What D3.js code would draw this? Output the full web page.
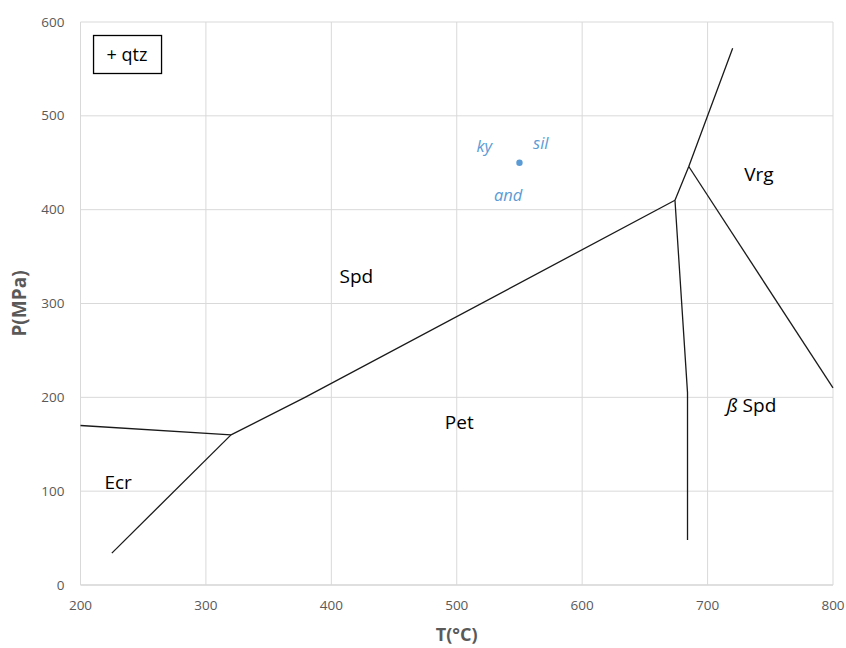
<!DOCTYPE html>
<html>
<head>
<meta charset="utf-8">
<script src="https://d3js.org/d3.v7.min.js"></script>
<style>
body { margin: 0; padding: 0; background: white; }
svg text { font-family: "Open Sans", "Liberation Sans", sans-serif; }
</style>
</head>
<body>
<svg id="chart" width="846" height="648"></svg>
<script>
// tick values
var tTicks = [200, 300, 400, 500, 600, 700, 800];
var pTicks = [0, 100, 200, 300, 400, 500, 600];

// phase boundaries as [T, P]
var ecrSpd = [[200, 170], [320, 160]];
var ecrPet = [[225, 34], [320, 160]];
var spdPet = [[320, 160], [379, 200], [674, 410]];
var petBeta = [[674, 410], [684, 205], [684, 48]];
var spdVrg = [[674, 410], [685, 446], [720, 572]];
var vrgBeta = [[685, 446], [800, 210]];

// triple point of Al2SiO5
var triplePoint = [[550, 450]];

// field labels
var fieldNames = ["Spd", "Pet", "Ecr", "Vrg"];
var fieldT = [420, 502, 230, 741];
var fieldP = [329, 173, 109, 438];

var alsNames = ["ky", "sil", "and"];
var alsT = [522, 567, 541];
var alsP = [467, 471, 415];

var margin = {top: 22, right: 13, bottom: 63, left: 80.5},
    width = 833 - margin.left,
    height = 585 - margin.top;

var svg = d3.select("#chart")
  .append("g")
  .attr("transform", "translate(" + margin.left + "," + margin.top + ")");

var x = d3.scaleLinear().domain([200, 800]).range([0, width]);
var y = d3.scaleLinear().domain([0, 600]).range([height, 0]);

// gridlines
svg.append("g").selectAll("line")
  .data(pTicks).enter().append("line")
  .attr("x1", 0).attr("x2", width)
  .attr("y1", function(d) { return y(d); })
  .attr("y2", function(d) { return y(d); })
  .attr("stroke", function(d) { return d == 0 ? "#bfbfbf" : "#d9d9d9"; })
  .attr("stroke-width", 1);

svg.append("g").selectAll("line")
  .data(tTicks).enter().append("line")
  .attr("y1", 0).attr("y2", height)
  .attr("x1", function(d) { return x(d); })
  .attr("x2", function(d) { return x(d); })
  .attr("stroke", "#d9d9d9")
  .attr("stroke-width", 1);

// tick labels
svg.append("g").selectAll("text")
  .data(tTicks).enter().append("text")
  .attr("x", function(d) { return x(d); })
  .attr("y", height + 25)
  .attr("text-anchor", "middle")
  .attr("fill", "#595959")
  .attr("font-size", "13.5px")
  .text(function(d) { return d; });

svg.append("g").selectAll("text")
  .data(pTicks).enter().append("text")
  .attr("x", -16)
  .attr("y", function(d) { return y(d) + 4.5; })
  .attr("text-anchor", "end")
  .attr("fill", "#595959")
  .attr("font-size", "13.5px")
  .text(function(d) { return d; });

// axis titles
svg.append("text")
  .attr("x", x(500))
  .attr("y", height + 56)
  .attr("text-anchor", "middle")
  .attr("fill", "#595959")
  .attr("font-size", "18px")
  .attr("font-weight", "bold")
  .text("T(°C)");

svg.append("text")
  .attr("transform", "translate(-55," + y(300) + ") rotate(-90)")
  .attr("text-anchor", "middle")
  .attr("fill", "#595959")
  .attr("font-size", "19px")
  .attr("font-weight", "bold")
  .text("P(MPa)");

// boundaries
var line = d3.line()
  .x(function(d) { return x(d[0]); })
  .y(function(d) { return y(d[1]); });

[ecrSpd, ecrPet, spdPet, petBeta, spdVrg, vrgBeta].forEach(function(seg) {
  svg.append("path")
    .datum(seg)
    .attr("d", line)
    .attr("fill", "none")
    .attr("stroke", "#1a1a1a")
    .attr("stroke-width", 1.3);
});

// triple point
svg.selectAll(".tp")
  .data(triplePoint).enter().append("circle")
  .attr("class", "tp")
  .attr("cx", function(d) { return x(d[0]); })
  .attr("cy", function(d) { return y(d[1]); })
  .attr("r", 3.2)
  .attr("fill", "#5b9bd5");

svg.append("g").selectAll("text")
  .data(alsNames).enter().append("text")
  .attr("x", function(d, i) { return x(alsT[i]); })
  .attr("y", function(d, i) { return y(alsP[i]) + 5.5; })
  .attr("text-anchor", "middle")
  .attr("fill", "#5b9bd5")
  .attr("font-size", "16.5px")
  .attr("font-style", "italic")
  .text(function(d) { return d; });

// field labels
svg.append("g").selectAll("text")
  .data(fieldNames).enter().append("text")
  .attr("x", function(d, i) { return x(fieldT[i]); })
  .attr("y", function(d, i) { return y(fieldP[i]) + 6.5; })
  .attr("text-anchor", "middle")
  .attr("fill", "#000")
  .attr("font-size", "19px")
  .text(function(d) { return d; });

var beta = svg.append("text")
  .attr("x", x(735))
  .attr("y", y(191) + 6.5)
  .attr("text-anchor", "middle")
  .attr("fill", "#000")
  .attr("font-size", "19px");
beta.append("tspan").attr("font-style", "italic").text("ß");
beta.append("tspan").text(" Spd");

// + qtz box
svg.append("rect")
  .attr("x", x(210) + 0.5)
  .attr("y", 13.5)
  .attr("width", 68)
  .attr("height", 38)
  .attr("fill", "white")
  .attr("stroke", "#000")
  .attr("stroke-width", 1.3);

svg.append("text")
  .attr("x", x(210) + 34)
  .attr("y", 38.5)
  .attr("text-anchor", "middle")
  .attr("font-size", "18px")
  .attr("fill", "#000")
  .text("+ qtz");
</script>
</body>
</html>
